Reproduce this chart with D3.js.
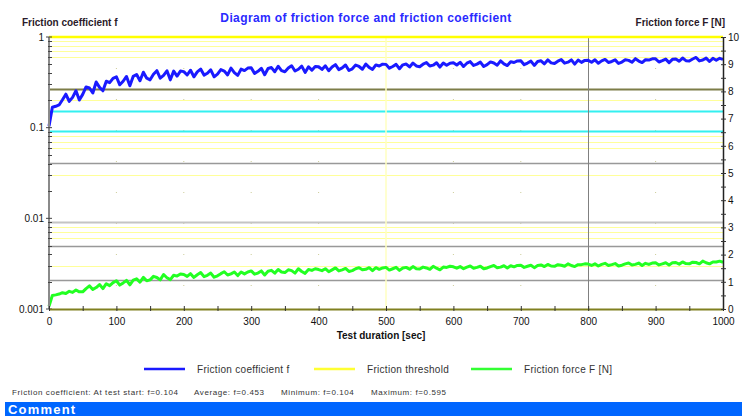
<!DOCTYPE html>
<html>
<head>
<meta charset="utf-8">
<script src="https://cdn.jsdelivr.net/npm/d3@7/dist/d3.min.js"></script>
<style>
  html, body { margin: 0; padding: 0; background: #fff; }
  svg { display: block; font-family: "Liberation Sans", Arial, sans-serif; }
</style>
</head>
<body>
<div id="chart"></div>
<script>
// Friction test diagram: coefficient f (log, left) and force F (linear, right)

const timeStep = 5; // seconds between samples
const timeTicks = [0, 100, 200, 300, 400, 500, 600, 700, 800, 900, 1000];
const leftTickLabels = [1, 0.1, 0.01, 0.001];
const rightTickLabels = [0, 1, 2, 3, 4, 5, 6, 7, 8, 9, 10];

// friction coefficient f, one value every 5 s (0..1000 s)
const frictionCoef = [
  0.104, 0.168, 0.172, 0.178, 0.203, 0.234, 0.195, 0.216, 0.255, 0.202,
  0.233, 0.281, 0.274, 0.241, 0.319, 0.278, 0.255, 0.325, 0.314, 0.350,
  0.364, 0.297, 0.325, 0.367, 0.290, 0.368, 0.386, 0.329, 0.409, 0.351,
  0.337, 0.388, 0.425, 0.352, 0.378, 0.424, 0.337, 0.420, 0.371, 0.421,
  0.415, 0.381, 0.430, 0.364, 0.413, 0.443, 0.380, 0.398, 0.435, 0.364,
  0.390, 0.437, 0.421, 0.382, 0.453, 0.405, 0.377, 0.442, 0.426, 0.454,
  0.459, 0.397, 0.419, 0.452, 0.384, 0.450, 0.460, 0.414, 0.476, 0.426,
  0.414, 0.454, 0.482, 0.422, 0.441, 0.477, 0.407, 0.470, 0.431, 0.474,
  0.470, 0.439, 0.482, 0.424, 0.466, 0.496, 0.437, 0.456, 0.491, 0.427,
  0.446, 0.490, 0.473, 0.441, 0.503, 0.462, 0.439, 0.492, 0.479, 0.502,
  0.499, 0.453, 0.473, 0.499, 0.447, 0.493, 0.503, 0.467, 0.516, 0.479,
  0.470, 0.501, 0.522, 0.478, 0.489, 0.520, 0.466, 0.517, 0.488, 0.514,
  0.520, 0.491, 0.526, 0.473, 0.514, 0.535, 0.486, 0.502, 0.528, 0.473,
  0.495, 0.531, 0.517, 0.489, 0.546, 0.505, 0.484, 0.533, 0.523, 0.545,
  0.546, 0.495, 0.516, 0.542, 0.486, 0.536, 0.546, 0.506, 0.559, 0.518,
  0.509, 0.541, 0.563, 0.515, 0.528, 0.559, 0.502, 0.556, 0.525, 0.552,
  0.553, 0.527, 0.560, 0.513, 0.545, 0.566, 0.524, 0.537, 0.559, 0.511,
  0.529, 0.562, 0.552, 0.526, 0.577, 0.543, 0.522, 0.561, 0.556, 0.574,
  0.574, 0.530, 0.548, 0.570, 0.522, 0.567, 0.573, 0.540, 0.586, 0.548,
  0.543, 0.572, 0.595, 0.545, 0.557, 0.585, 0.537, 0.582, 0.554, 0.582,
  0.566
];

// friction force F [N], same sampling
const frictionForce = [
  0.10, 0.50, 0.52, 0.55, 0.60, 0.57, 0.65, 0.61, 0.70, 0.63,
  0.63, 0.75, 0.85, 0.72, 0.79, 0.90, 0.75, 0.93, 0.86, 0.97,
  1.04, 0.88, 0.96, 1.05, 0.89, 1.06, 1.11, 0.99, 1.16, 1.04,
  1.07, 1.20, 1.16, 1.07, 1.27, 1.15, 1.08, 1.24, 1.21, 1.29,
  1.27, 1.20, 1.30, 1.16, 1.26, 1.34, 1.19, 1.24, 1.32, 1.17,
  1.22, 1.30, 1.37, 1.25, 1.29, 1.36, 1.23, 1.36, 1.29, 1.36,
  1.40, 1.28, 1.32, 1.40, 1.25, 1.39, 1.42, 1.32, 1.45, 1.36,
  1.34, 1.44, 1.41, 1.32, 1.48, 1.38, 1.31, 1.45, 1.42, 1.48,
  1.45, 1.41, 1.48, 1.37, 1.44, 1.51, 1.40, 1.44, 1.49, 1.38,
  1.41, 1.48, 1.52, 1.44, 1.46, 1.52, 1.41, 1.52, 1.46, 1.51,
  1.53, 1.43, 1.48, 1.53, 1.42, 1.51, 1.53, 1.46, 1.56, 1.48,
  1.47, 1.54, 1.51, 1.46, 1.57, 1.50, 1.44, 1.54, 1.53, 1.57,
  1.55, 1.50, 1.56, 1.48, 1.54, 1.58, 1.50, 1.53, 1.57, 1.48,
  1.51, 1.56, 1.60, 1.52, 1.54, 1.59, 1.51, 1.59, 1.55, 1.60,
  1.61, 1.53, 1.57, 1.61, 1.52, 1.60, 1.62, 1.56, 1.64, 1.58,
  1.57, 1.63, 1.61, 1.57, 1.66, 1.60, 1.56, 1.63, 1.63, 1.66,
  1.65, 1.60, 1.66, 1.58, 1.64, 1.68, 1.60, 1.63, 1.67, 1.58,
  1.61, 1.66, 1.69, 1.62, 1.64, 1.69, 1.60, 1.68, 1.64, 1.69,
  1.70, 1.62, 1.66, 1.70, 1.62, 1.70, 1.71, 1.65, 1.73, 1.67,
  1.66, 1.72, 1.71, 1.66, 1.76, 1.70, 1.66, 1.73, 1.73, 1.76,
  1.72
];

// horizontal reference lines, in units of f
const yellowLevels = [0.9, 0.8, 0.7, 0.6, 0.2, 0.08, 0.07, 0.06, 0.03, 0.008, 0.007, 0.006, 0.003];
const cyanLevels = [0.153, 0.092];
const oliveLevels = [0.265];
const grayLevels = [0.0405, 0.005, 0.00208];
const lightGrayLevels = [0.0091];
const thresholdLevel = 1;

const statsItems = [
  { text: 'Friction coefficient: At test start: f=0.104', x: 12 },
  { text: 'Average: f=0.453', x: 194 },
  { text: 'Minimum: f=0.104', x: 281 },
  { text: 'Maximum: f=0.595', x: 371 }
];

const width = 742, height = 416;
const plot = { left: 49, right: 723, top: 37, bottom: 309 };

const svg = d3.select('#chart').append('svg')
  .attr('width', width)
  .attr('height', height);

const x = d3.scaleLinear().domain([0, 1000]).range([plot.left, plot.right]);
const yF = d3.scaleLog().domain([0.001, 1]).range([plot.bottom, plot.top]);
const yN = d3.scaleLinear().domain([0, 10]).range([plot.bottom, plot.top]);

const times = frictionCoef.map((d, i) => i * timeStep);

// Grid
const grid = svg.append('g');

grid.selectAll('line.vdot')
  .data([100, 200, 300, 400, 600, 700, 900])
  .join('line')
  .attr('x1', d => x(d)).attr('x2', d => x(d))
  .attr('y1', plot.top).attr('y2', plot.bottom)
  .attr('stroke', '#cccc99')
  .attr('stroke-width', 1)
  .attr('stroke-dasharray', '1,30');

function hLines(levels, color, w) {
  grid.append('g').selectAll('line')
    .data(levels)
    .join('line')
    .attr('x1', plot.left).attr('x2', plot.right)
    .attr('y1', d => Math.round(yF(d)) + 0.5)
    .attr('y2', d => Math.round(yF(d)) + 0.5)
    .attr('stroke', color)
    .attr('stroke-width', w);
}
hLines(yellowLevels, '#ffff99', 1);
hLines(grayLevels, '#999999', 1.5);
hLines(lightGrayLevels, '#c4c4c4', 2);
hLines(oliveLevels, '#7d7d48', 2);
hLines(cyanLevels, '#33f0f0', 2);

// vertical lines at 500 s and 800 s
grid.append('line')
  .attr('x1', x(500)).attr('x2', x(500))
  .attr('y1', plot.top).attr('y2', plot.bottom)
  .attr('stroke', '#ffffc0').attr('stroke-width', 1.5);
grid.append('line')
  .attr('x1', Math.round(x(800)) + 0.5).attr('x2', Math.round(x(800)) + 0.5)
  .attr('y1', plot.top).attr('y2', plot.bottom)
  .attr('stroke', '#808080').attr('stroke-width', 1);

// threshold
grid.append('line')
  .attr('x1', plot.left).attr('x2', plot.right)
  .attr('y1', yF(thresholdLevel)).attr('y2', yF(thresholdLevel))
  .attr('stroke', '#ffff00').attr('stroke-width', 2.5);

// Series
const lineF = d3.line()
  .x((d, i) => x(times[i]))
  .y(d => yF(d));
const lineN = d3.line()
  .x((d, i) => x(times[i]))
  .y(d => yN(d));

svg.append('path')
  .datum(frictionForce)
  .attr('fill', 'none')
  .attr('stroke', '#22ff22')
  .attr('stroke-width', 3)
  .attr('stroke-linejoin', 'round')
  .attr('d', lineN);

svg.append('path')
  .datum(frictionCoef)
  .attr('fill', 'none')
  .attr('stroke', '#1a1aff')
  .attr('stroke-width', 3)
  .attr('stroke-linejoin', 'round')
  .attr('d', lineF);

// Axes
const axisFont = g => g.selectAll('text')
  .attr('font-size', 10)
  .attr('font-family', '"Liberation Sans", Arial, sans-serif')
  .attr('fill', '#111');

// left log axis
const minorF = [];
[0.001, 0.01, 0.1].forEach(dec => d3.range(2, 10).forEach(k => minorF.push(dec * k)));

const gLeft = svg.append('g');
gLeft.append('line')
  .attr('x1', plot.left).attr('x2', plot.left)
  .attr('y1', plot.top).attr('y2', plot.bottom)
  .attr('stroke', '#8a8a8a').attr('stroke-width', 2);
gLeft.selectAll('line.minor')
  .data(minorF)
  .join('line')
  .attr('x1', plot.left - 1).attr('x2', plot.left + 3)
  .attr('y1', d => Math.round(yF(d)) + 0.5).attr('y2', d => Math.round(yF(d)) + 0.5)
  .attr('stroke', '#444');
gLeft.selectAll('line.major')
  .data(leftTickLabels)
  .join('line')
  .attr('x1', plot.left - 3).attr('x2', plot.left + 3)
  .attr('y1', d => yF(d)).attr('y2', d => yF(d))
  .attr('stroke', '#444');
gLeft.selectAll('text')
  .data(leftTickLabels)
  .join('text')
  .attr('x', plot.left - 5)
  .attr('y', d => yF(d))
  .attr('dy', '0.35em')
  .attr('text-anchor', 'end')
  .text(d => d);
axisFont(gLeft);

// bottom axis
const xAxis = d3.axisBottom(x)
  .tickValues(d3.range(0, 1001, 50))
  .tickSize(0)
  .tickFormat(d => timeTicks.includes(d) ? d : '');
const gBottom = svg.append('g')
  .attr('transform', `translate(0,${plot.bottom})`)
  .call(xAxis);
gBottom.select('.domain')
  .attr('stroke', '#808020').attr('stroke-width', 2);
gBottom.selectAll('.tick line').remove();
gBottom.selectAll('.tick').append('line')
  .attr('y1', -3).attr('y2', 2)
  .attr('stroke', '#333');
gBottom.selectAll('.tick text').attr('dy', 0).attr('y', 16);
axisFont(gBottom);

// right linear axis
const yAxisR = d3.axisRight(yN)
  .tickValues(d3.range(0, 10.01, 0.5))
  .tickSize(0)
  .tickFormat(d => rightTickLabels.includes(d) ? d : '');
const gRight = svg.append('g')
  .attr('transform', `translate(${plot.right},0)`)
  .call(yAxisR);
gRight.select('.domain').attr('stroke', '#222').attr('stroke-width', 1.5);
gRight.selectAll('.tick line').remove();
gRight.selectAll('.tick').append('line')
  .attr('x1', -2).attr('x2', 3)
  .attr('stroke', '#333');
gRight.selectAll('.tick text').attr('x', 5);
axisFont(gRight);

// Titles
svg.append('text')
  .attr('x', 366).attr('y', 22)
  .attr('text-anchor', 'middle')
  .attr('font-size', 12).attr('font-weight', 'bold')
  .attr('letter-spacing', 0.4)
  .attr('fill', '#2a2aff')
  .text('Diagram of friction force and friction coefficient');

svg.append('text')
  .attr('x', 22).attr('y', 26)
  .attr('font-size', 10).attr('font-weight', 'bold')
  .attr('fill', '#2a1a2a')
  .text('Friction coefficient f');

svg.append('text')
  .attr('x', 725).attr('y', 26)
  .attr('text-anchor', 'end')
  .attr('font-size', 10).attr('font-weight', 'bold')
  .attr('fill', '#2a1a2a')
  .text('Friction force F [N]');

svg.append('text')
  .attr('x', 381).attr('y', 339)
  .attr('text-anchor', 'middle')
  .attr('font-size', 10).attr('font-weight', 'bold')
  .attr('fill', '#111')
  .text('Test duration [sec]');

// Legend
const legendItems = [
  { label: 'Friction coefficient f', color: '#1a1aff', x: 144 },
  { label: 'Friction threshold', color: '#ffff33', x: 314 },
  { label: 'Friction force F [N]', color: '#33ff33', x: 471 }
];
const legend = svg.append('g').attr('transform', 'translate(0,369)');
const li = legend.selectAll('g')
  .data(legendItems)
  .join('g')
  .attr('transform', d => `translate(${d.x},0)`);
li.append('line')
  .attr('x1', 0).attr('x2', 41)
  .attr('stroke', d => d.color).attr('stroke-width', 2.5);
li.append('text')
  .attr('x', 53).attr('dy', '0.35em')
  .attr('font-size', 10)
  .attr('letter-spacing', 0.3)
  .attr('fill', '#333')
  .text(d => d.label);

// Stats line
svg.append('g').selectAll('text')
  .data(statsItems)
  .join('text')
  .attr('x', d => d.x).attr('y', 394.5)
  .attr('font-size', 8)
  .attr('letter-spacing', 0.6)
  .attr('fill', '#333')
  .text(d => d.text);

// Comment bar
svg.append('rect')
  .attr('x', 5).attr('y', 402)
  .attr('width', width - 5).attr('height', height - 402)
  .attr('fill', '#0066ff');
svg.append('text')
  .attr('x', 8).attr('y', 414)
  .attr('font-size', 13).attr('font-weight', 'bold')
  .attr('letter-spacing', 1.2)
  .attr('fill', '#fff')
  .text('Comment');
</script>
</body>
</html>
